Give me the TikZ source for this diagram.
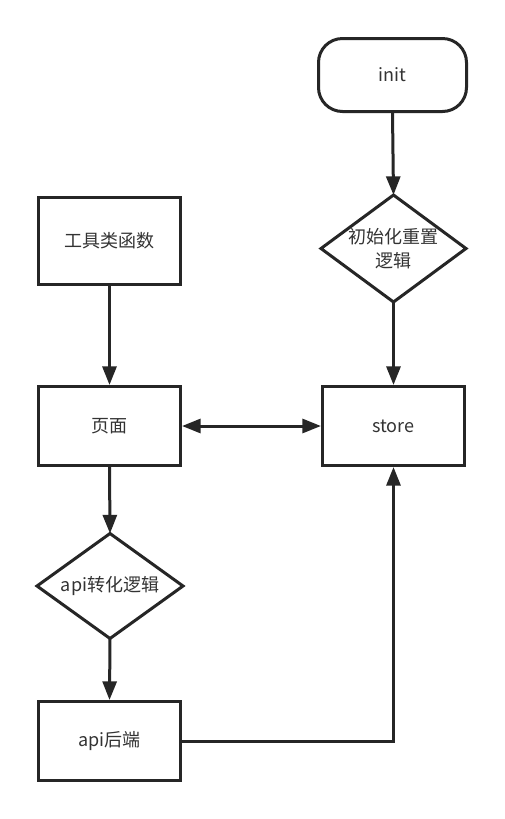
\documentclass[tikz,border=0pt]{standalone}
\usepackage{fontspec}
\setmainfont{Noto Sans CJK SC}
\usetikzlibrary{arrows.meta}
\definecolor{ln}{HTML}{262626}
\definecolor{tx}{HTML}{333333}
\tikzset{
  base/.style={line width=2.25pt, text=tx, font=\fontsize{13.5}{19}\selectfont, inner sep=0pt, align=center},
  box/.style={base, draw=ln, minimum width=106.5pt, minimum height=59.25pt},
  term/.style={base, draw=ln, rounded corners=18pt, minimum width=111pt, minimum height=54.75pt},
  dia/.style={base, minimum width=#1},
  conn/.style={draw=ln, line width=2.25pt, -{Triangle[length=14pt,width=10.5pt]}},
  conn2/.style={draw=ln, line width=2.25pt, {Triangle[length=14pt,width=10.5pt]}-{Triangle[length=14pt,width=10.5pt]}},
  diaedge/.style={draw=ln, line width=2.25pt, line join=miter}
}
\begin{document}
\begin{tikzpicture}[x=0.75pt,y=-0.75pt]
\useasboundingbox (0,0) rectangle (505,819);
\fill[white] (0,0) rectangle (505,819);
\node[term] (init) at (392.5,75) {init};
\node[dia=106.5pt, minimum height=78pt] (reset) at (393.5,248.5) {初始化重置\\[-1pt]逻辑};
\draw[diaedge] (reset.north) -- (reset.east) -- (reset.south) -- (reset.west) -- cycle;
\node[box] (store) at (393.5,426) {store};
\node[box, minimum height=65.25pt] (tool) at (109.5,241) {工具类函数};
\node[box] (page) at (109.5,426) {页面};
\node[dia=107.25pt, minimum height=76.5pt] (api) at (110,586) {api转化逻辑};
\draw[diaedge] (api.north) -- (api.east) -- (api.south) -- (api.west) -- cycle;
\node[box] (backend) at (109.5,741) {api后端};
\draw[conn] (init.south) -- (reset.north);
\draw[conn] (reset.south) -- (store.north);
\draw[conn] (tool.south) -- (page.north);
\draw[conn2] (page.east) -- (store.west);
\draw[conn] (page.south) -- (api.north);
\draw[conn] (api.south) -- (backend.north);
\draw[conn] (backend.east) -| (store.south);
\end{tikzpicture}
\end{document}
